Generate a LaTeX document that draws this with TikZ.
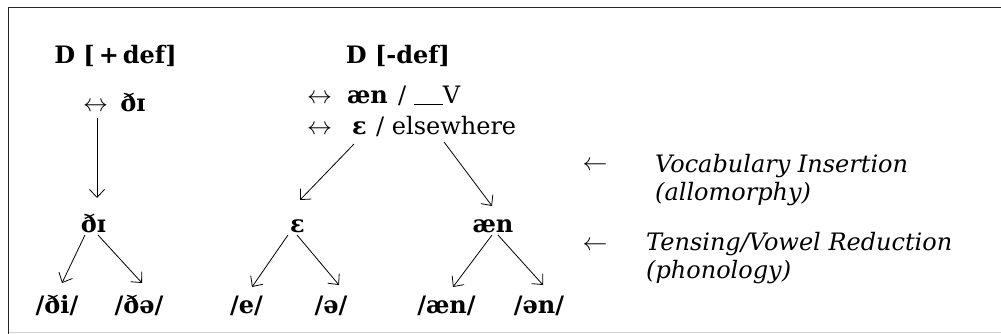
\documentclass[tikz,border=0pt]{standalone}
\usepackage{fontspec}
\setmainfont{DejaVu Serif}
\usetikzlibrary{arrows.meta}
\tikzset{
  lbl/.style={inner sep=0pt, anchor=base, font=\fontsize{24}{28}\selectfont},
  form/.style={lbl, font=\fontsize{24}{28}\selectfont\bfseries},
  gloss/.style={inner sep=0pt, anchor=base west, font=\fontsize{24}{28}\selectfont\itshape},
  arr/.style={line width=0.8pt, -{Straight Barb[length=8pt,width=15pt,line width=0.8pt]}},
  frame/.style={line width=1.6pt, draw=black!85},
}
\begin{document}
\begin{tikzpicture}[x=1pt,y=-1pt]
\useasboundingbox (0,0) rectangle (1001,334);
% box edges
\draw[frame] (1001,7.5) -- (8.5,7.5) -- (8.5,334);
\draw[black!18, line width=1.5pt] (8.5,332.5) -- (1001,332.5);

% definite article
\node[form] (defp) at (115.5,64) {D [\,+\,def]};
\node[lbl]  (ar1)  at (95.5,112) {$\leftrightarrow$};
\node[form] (di1)  at (133,112) {ðɪ};
\node[form] (di2)  at (93.5,232) {ðɪ};
\node[form] (l1)   at (57,313) {/ði/};
\node[form] (l2)   at (139,313) {/ðə/};

% indefinite article
\node[form] (defm) at (398,64) {D [-def]};
\node[lbl]  (ar2)  at (319.5,104) {$\leftrightarrow$};
\node[form] (an1)  at (367.5,104) {æn};
\node[lbl, anchor=base west] (env1) at (398,104) {/ \rule[-1pt]{29pt}{0.9pt}V};
\node[lbl]  (ar3)  at (319.5,135) {$\leftrightarrow$};
\node[form] (ep1)  at (359.5,135) {ɛ};
\node[lbl, anchor=base west] (env2) at (376,135) {/ elsewhere};

\node[form] (ep2) at (297.5,232) {ɛ};
\node[form] (an2) at (493,232) {æn};
\node[form] (e1)  at (246.5,313) {/e/};
\node[form] (e2)  at (331,313) {/ə/};
\node[form] (a1)  at (446.5,313) {/æn/};
\node[form] (a2)  at (539,313) {/ən/};

% level labels
\node[lbl]   (ar4) at (595,170) {$\leftarrow$};
\node[gloss] (vi1) at (655,172) {Vocabulary Insertion};
\node[gloss] (vi2) at (655,200) {(allomorphy)};
\node[lbl]   (ar5) at (595,250) {$\leftarrow$};
\node[gloss] (tv1) at (646,250) {Tensing/Vowel Reduction};
\node[gloss] (tv2) at (646,278) {(phonology)};

% connectors
\draw[arr] ([shift={(1.5,6)}]ar1.base) -- ([shift={(3.5,-34)}]di2.base);
\draw[arr] ([shift={(-8.5,3)}]di2.base) -- ([shift={(5,-30)}]l1.base);
\draw[arr] ([shift={(4.5,3)}]di2.base) -- ([shift={(3,-30)}]l2.base);
\draw[arr] ([shift={(-5.5,9)}]ep1.base) -- ([shift={(2.5,-32)}]ep2.base);
\draw[arr] ([shift={(84.5,7)}]ep1.base) -- ([shift={(-1,-26)}]an2.base);
\draw[arr] ([shift={(-9.5,3)}]ep2.base) -- ([shift={(5.5,-26)}]e1.base);
\draw[arr] ([shift={(-0.5,3)}]ep2.base) -- ([shift={(8,-28)}]e2.base);
\draw[arr] ([shift={(-1,3)}]an2.base) -- ([shift={(6.5,-26)}]a1.base);
\draw[arr] ([shift={(5,3)}]an2.base) -- ([shift={(4,-28)}]a2.base);
\end{tikzpicture}
\end{document}
